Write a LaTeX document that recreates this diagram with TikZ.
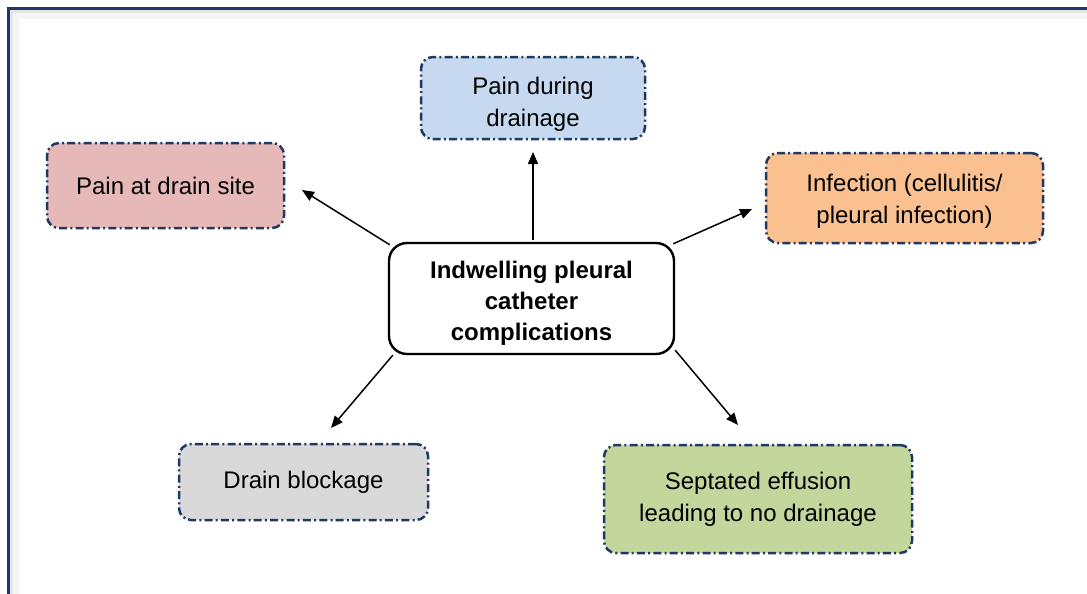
\documentclass[tikz,border=0pt]{standalone}
\usepackage{fontspec}
\setmainfont{Liberation Sans}
\usetikzlibrary{arrows,arrows.meta}
\usetikzlibrary{positioning,shapes}

\definecolor{navy}{HTML}{1F3864}
\definecolor{painblue}{HTML}{C6D9F1}
\definecolor{painpink}{HTML}{E6B9B8}
\definecolor{infectorange}{HTML}{FAC090}
\definecolor{blockgray}{HTML}{D9D9D9}
\definecolor{septgreen}{HTML}{C3D69B}

\newcommand{\boxtext}[2]{\raisebox{#1}[\height][\depth]{\begin{tabular}{@{}c@{}}#2\end{tabular}}}

\begin{document}
\begin{tikzpicture} [x=0.5pt,y=-0.5pt,-{Triangle[length=6pt,width=5pt]},line width=0.75pt,
    comp/.style={draw=navy,line width=1.25pt,rounded corners=6pt,inner sep=0pt,
      dash pattern=on 4pt off 1.6pt on 1pt off 1.6pt,font=\fontsize{12}{16}\selectfont},
    hub/.style={draw=black,line width=1.2pt,rounded corners=9pt,inner sep=0pt,
      minimum width=142.5pt,minimum height=55.5pt,font=\bfseries\fontsize{12}{15.5}\selectfont}]

  \useasboundingbox (0,0) rectangle (1087,594);
  \draw[-,black!10,line width=2pt] (12,600) -- (12,12) -- (1095,12);
  \draw[-,black!4,line width=3pt] (16,600) -- (16,16) -- (1095,16);
  \draw[-,navy,line width=1.5pt] (8,610) -- (8,8) -- (1100,8);

  \node[hub] (0) at (531.5,298.5) {\boxtext{-2.5pt}{Indwelling pleural\\catheter\\complications}};

  \node[comp,fill=painblue,minimum width=112pt,minimum height=41pt] (1) at (533,98) {\boxtext{-3pt}{Pain during\\drainage}};
  \node[comp,fill=painpink,minimum width=118.5pt,minimum height=42.5pt] (2) at (165.5,185.5) {Pain at drain site};
  \node[comp,fill=infectorange,minimum width=138.5pt,minimum height=45pt] (3) at (904.5,198) {\boxtext{-1.5pt}{Infection (cellulitis/\\pleural infection)}};
  \node[comp,fill=blockgray,minimum width=124.5pt,minimum height=38pt] (4) at (303.5,482) {Drain blockage};
  \node[comp,fill=septgreen,minimum width=154pt,minimum height=54pt] (5) at (758,499) {\boxtext{0pt}{Septated effusion\\leading to no drainage}};

  \coordinate (e1) at (533,152);
  \coordinate (e2) at (302,190);
  \coordinate (e3) at (752,209);
  \coordinate (e4) at (331,428);
  \coordinate (e5) at (738,425);

  \path
    ([yshift=1pt]e1 |- 0.north) edge (e1)
    ([xshift=1pt,yshift=-1.5pt]0.north west) edge (e2)
    ([xshift=-1pt,yshift=-1pt]0.north east) edge (e3)
    ([xshift=2.5pt]0.south west) edge (e4)
    ([yshift=2.5pt]0.south east) edge (e5);

\end{tikzpicture}
\end{document}
